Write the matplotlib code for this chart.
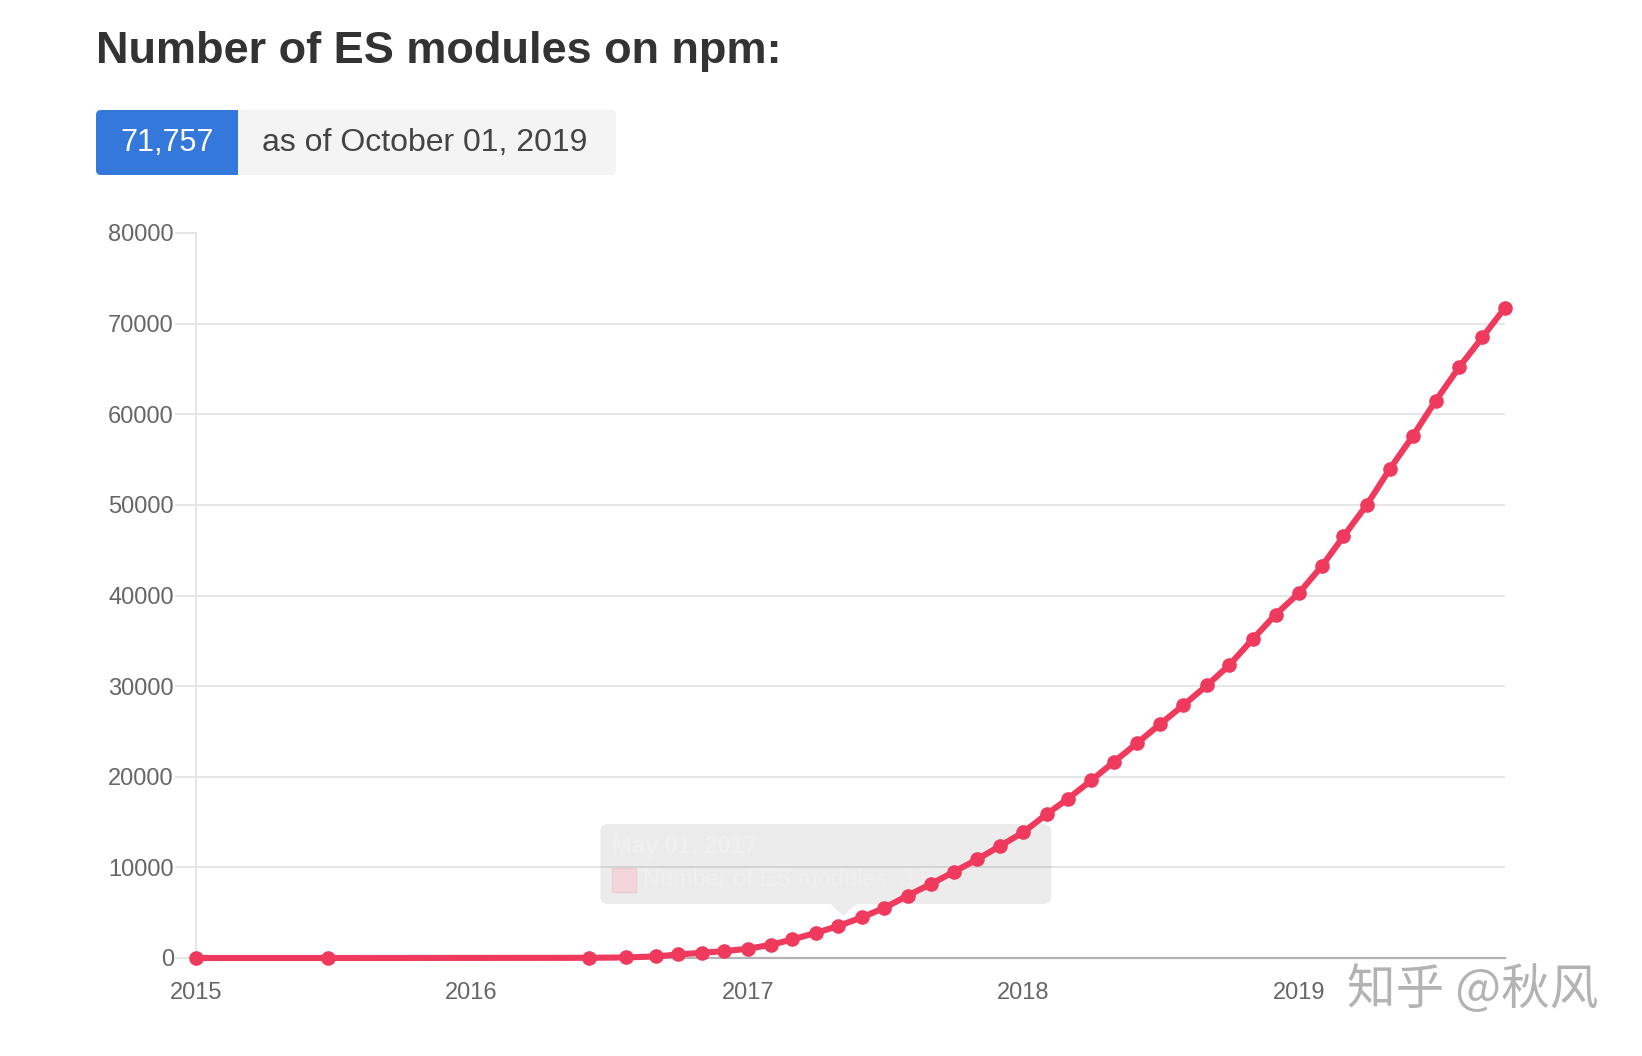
import matplotlib
matplotlib.use('Agg')
import matplotlib.pyplot as plt
from matplotlib.patches import FancyBboxPatch, Polygon, Rectangle
from matplotlib.transforms import IdentityTransform
import matplotlib.dates as mdates
import pandas as pd
import numpy as np

plt.rcParams['font.family'] = ['Liberation Sans', 'DejaVu Sans']

# data
early_dates = ['2015-01-01', '2015-06-25', '2016-06-05', '2016-07-23']
early_counts = [0, 0, 20, 60]
monthly_start = '2016-09-01'
monthly_counts = [170, 390, 575, 760,
                  1020, 1460, 2050, 2770, 3530, 4480, 5540, 6890, 8190, 9510, 10890, 12360,
                  13880, 15880, 17570, 19600, 21650, 23730, 25800, 27900, 30070, 32340, 35200, 37890,
                  40260, 43310, 46520, 50010, 53910, 57610, 61470, 65160, 68490, 71757]
year_ticks = ['2015-01-01', '2016-01-01', '2017-01-01', '2018-01-01', '2019-01-01']
year_labels = ['2015', '2016', '2017', '2018', '2019']
y_ticks = [0, 10000, 20000, 30000, 40000, 50000, 60000, 70000, 80000]
tooltip_date = '2017-05-01'

dates = list(pd.to_datetime(early_dates)) + list(pd.date_range(monthly_start, periods=len(monthly_counts), freq='MS'))
counts = early_counts + monthly_counts

W, H = 1642, 1056
fig = plt.figure(figsize=(W / 100, H / 100), dpi=100)
ax = fig.add_axes([196 / W, 1 - 958 / H, (1505 - 196) / W, (958 - 233) / H])

line_color = '#ef3a5d'
ax.plot(dates, counts, color=line_color, lw=4.4, marker='o', ms=9.5, zorder=5, clip_on=False)

ax.set_xlim(pd.Timestamp('2015-01-01'), dates[-1])
ax.set_ylim(0, 80000)
ax.set_yticks(y_ticks)
ax.set_yticklabels([str(v) for v in y_ticks])
ax.set_xticks(pd.to_datetime(year_ticks))
ax.set_xticklabels(year_labels)

ax.tick_params(axis='y', length=15, width=1.4, color='#e6e6e6', pad=1, labelsize=17, labelcolor='#666666')
ax.tick_params(axis='x', length=0, pad=17, labelsize=17, labelcolor='#666666')
ax.yaxis.get_major_ticks()[0].tick1line.set_color('#b3b3b3')

ax.yaxis.grid(True, color='#e6e6e6', lw=1.4)
ax.yaxis.get_gridlines()[-1].set_visible(False)
ax.yaxis.get_gridlines()[0].set_visible(False)
ax.set_axisbelow(True)

for s in ['top', 'right']:
    ax.spines[s].set_visible(False)
ax.spines['left'].set_color('#e6e6e6')
ax.spines['left'].set_linewidth(1.4)
ax.spines['bottom'].set_color('#b3b3b3')
ax.spines['bottom'].set_linewidth(1.6)
ax.spines['bottom'].set_zorder(3)

# fading tooltip over the May 2017 point, drawn under the line
fig.canvas.draw()
tip_idx = dates.index(pd.Timestamp(tooltip_date))
px, py = ax.transData.transform((mdates.date2num(dates[tip_idx]), counts[tip_idx]))
idt = IdentityTransform()
box_col = (0, 0, 0, 0.075)
box = FancyBboxPatch((px - 238, py + 22), 451, 80, boxstyle='round,pad=0,rounding_size=8',
                     transform=idt, fc=box_col, ec='none', zorder=2, clip_on=False)
ax.add_artist(box)
tri = Polygon([[px - 8, py + 22], [px + 18, py + 22], [px + 5, py + 10]], closed=True,
              transform=idt, fc=box_col, ec='none', zorder=2, clip_on=False)
ax.add_artist(tri)
sq = Rectangle((px - 226, py + 34), 24, 24, transform=idt,
               fc='#f2d6dc', ec='#efcdd4', lw=1, zorder=2.1, clip_on=False)
ax.add_artist(sq)
ax.text(px - 226, py + 80, 'May 01, 2017', fontsize=17, fontweight='bold', transform=idt,
        color='#f0f0f0', va='center', ha='left', zorder=2.1)
ax.text(px - 195, py + 46, 'Number of ES modules: 3,530', fontsize=17, transform=idt,
        color='#f0f0f0', va='center', ha='left', zorder=2.1)

# header
fig.text(96 / W, 1 - 63 / H, 'Number of ES modules on npm:', fontsize=32.5, fontweight='bold',
         color='#333333', va='baseline', ha='left')
blue = FancyBboxPatch((96, H - 175), 142, 65, boxstyle='round,pad=0,rounding_size=5',
                      transform=idt, fc='#3578dc', ec='none')
grey = FancyBboxPatch((238, H - 175), 378, 65, boxstyle='round,pad=0,rounding_size=5',
                      transform=idt, fc='#f4f4f4', ec='none')
fig.add_artist(grey)
fig.add_artist(blue)
fig.add_artist(Rectangle((228, H - 175), 10, 65, transform=idt, fc='#3578dc', ec='none'))
fig.text(167 / W, 1 - 143 / H, '71,757', fontsize=22, color='white', va='center', ha='center')
fig.text(262 / W, 1 - 143 / H, 'as of October 01, 2019', fontsize=23, color='#444444',
         va='center', ha='left')

# watermark
fig.text(1347 / W, 1 - 990 / H, '知乎 @秋风', fontsize=35, color='#b3b3b3', va='center', ha='left',
         family=['Noto Sans CJK SC', 'DejaVu Sans'], fontweight='light')

fig.savefig('out.png', dpi=100, facecolor='white')
